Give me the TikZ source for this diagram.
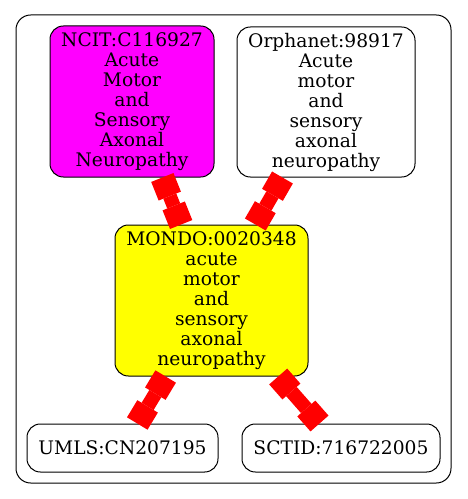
\documentclass[tikz,border=0pt]{standalone}
\usepackage{fontspec}
\setmainfont{DejaVu Serif}
\usetikzlibrary{arrows.meta}
\definecolor{ncitfill}{RGB}{255,0,255}
\definecolor{mondofill}{RGB}{255,255,0}
\definecolor{linkred}{RGB}{255,0,0}
\tikzset{
  term/.style={draw=black, line width=0.75pt, rounded corners=10pt, align=center, inner sep=2pt,
    font=\fontsize{14pt}{15pt}\selectfont},
  link/.style={draw=linkred, line width=10.5pt,
    arrows={Square[length=15pt,width=18pt,line width=0pt]-Square[length=15pt,width=18pt,line width=0pt]}}
}
\begin{document}
\begin{tikzpicture}[x=0.75pt, y=-0.75pt]
    \useasboundingbox (0,0) rectangle (467,499);
    % cluster
    \draw[line width=0.75pt, rounded corners=11pt] (16,15) rectangle (451,483);

    % upper terms
    \node[term, fill=ncitfill, minimum width=123pt, minimum height=113.25pt] (ncit) at (132,101.5)
      {NCIT:C116927\\Acute\\Motor\\and\\Sensory\\Axonal\\Neuropathy};
    \node[term, fill=white, minimum width=133.5pt, minimum height=112.5pt] (orpha) at (326,102)
      {Orphanet:98917\\Acute\\motor\\and\\sensory\\axonal\\neuropathy};

    % middle term
    \node[term, fill=mondofill, minimum width=144.75pt, minimum height=113.25pt] (mondo) at (211.5,300.5)
      {MONDO:0020348\\acute\\motor\\and\\sensory\\axonal\\neuropathy};

    % lower terms
    \node[term, fill=white, minimum width=143.25pt, minimum height=36pt] (umls) at (122.5,448) {UMLS:CN207195};
    \node[term, fill=white, minimum width=148.5pt, minimum height=36pt] (sctid) at (341,448) {SCTID:716722005};

    % links
    \draw[link] (ncit) -- (mondo);
    \draw[link] (orpha) -- (mondo);
    \draw[link] (mondo) -- (umls);
    \draw[link] (mondo) -- (sctid);
\end{tikzpicture}
\end{document}
